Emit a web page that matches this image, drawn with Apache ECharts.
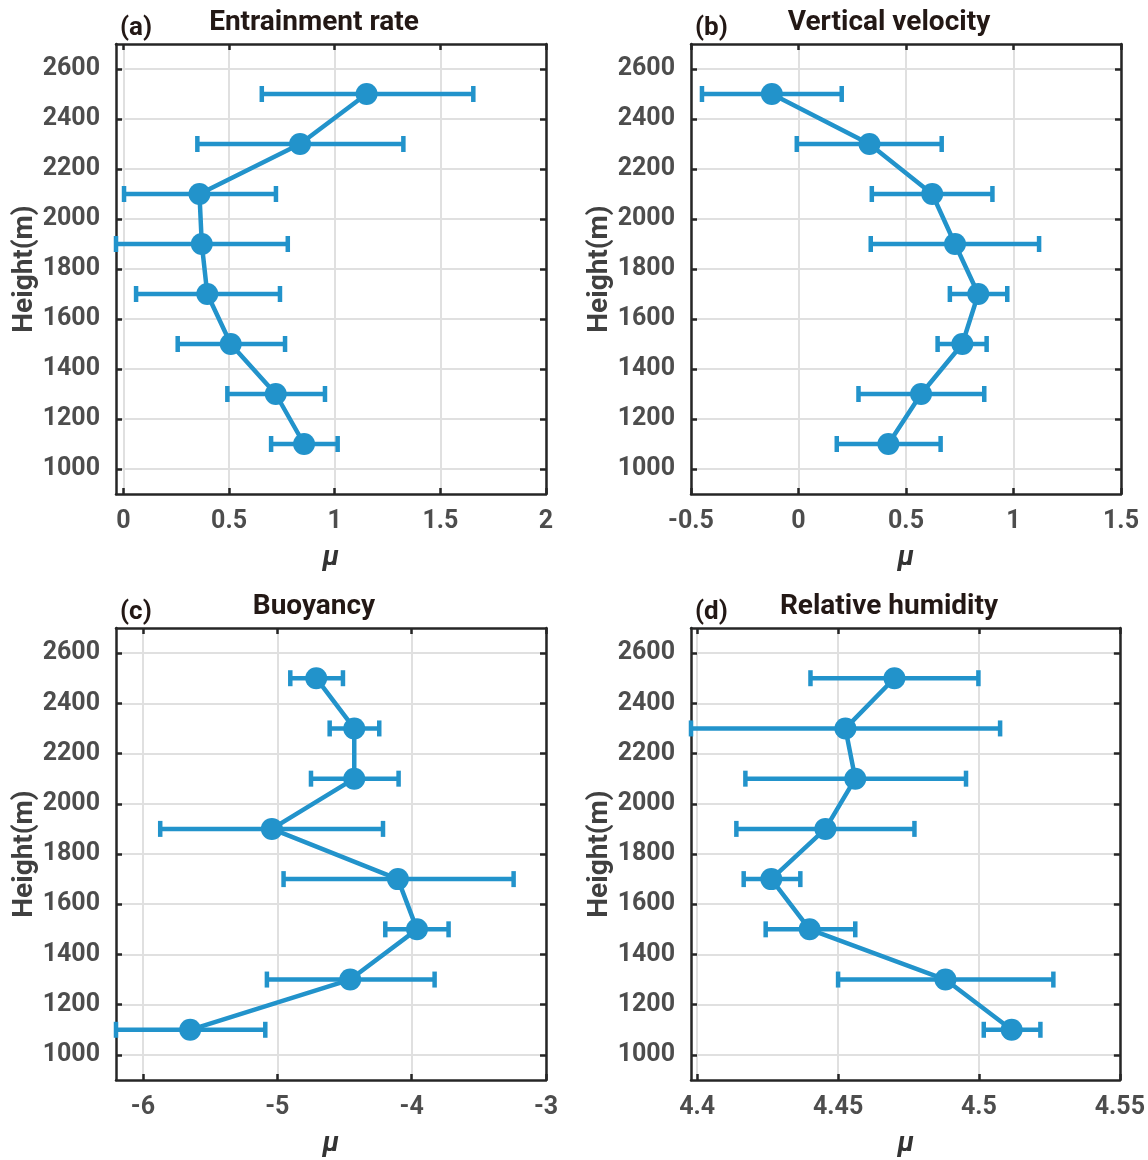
<!DOCTYPE html>
<html>
<head>
<meta charset="utf-8">
<script src="https://cdn.jsdelivr.net/npm/echarts@6/dist/echarts.min.js"></script>
<style>
html,body{margin:0;padding:0;background:#fff;}
#chart{width:1148px;height:1160px;}
</style>
</head>
<body>
<div id="chart"></div>
<script>
// ---------- data ----------
const heights = [1100, 1300, 1500, 1700, 1900, 2100, 2300, 2500];
const yTicks = [1000, 1200, 1400, 1600, 1800, 2000, 2200, 2400, 2600];

const entrainMean = [0.855, 0.721, 0.508, 0.397, 0.371, 0.360, 0.836, 1.151];
const entrainLow  = [0.699, 0.492, 0.257, 0.060, -0.035, 0.003, 0.350, 0.655];
const entrainHigh = [1.014, 0.954, 0.765, 0.741, 0.778, 0.722, 1.325, 1.656];

const velMean = [0.418, 0.570, 0.762, 0.836, 0.728, 0.622, 0.330, -0.124];
const velLow  = [0.178, 0.279, 0.647, 0.704, 0.336, 0.341, -0.008, -0.449];
const velHigh = [0.661, 0.864, 0.875, 0.971, 1.119, 0.902, 0.666, 0.201];

const buoyMean = [-5.648, -4.457, -3.960, -4.102, -5.040, -4.427, -4.427, -4.710];
const buoyLow  = [-6.200, -5.077, -4.196, -4.953, -5.871, -4.749, -4.610, -4.903];
const buoyHigh = [-5.089, -3.829, -3.725, -3.241, -4.213, -4.097, -4.241, -4.511];

const rhMean = [4.5116, 4.4881, 4.4399, 4.4263, 4.4455, 4.4561, 4.4526, 4.4700];
const rhLow  = [4.5017, 4.4500, 4.4243, 4.4165, 4.4139, 4.4171, 4.3978, 4.4402];
const rhHigh = [4.5218, 4.5264, 4.4561, 4.4366, 4.4771, 4.4954, 4.5075, 4.4998];

const xTicksA = [0, 0.5, 1, 1.5, 2];
const xTicksB = [-0.5, 0, 0.5, 1, 1.5];
const xTicksC = [-6, -5, -4, -3];
const xTicksD = [4.4, 4.45, 4.5, 4.55];

const titles = ['Entrainment rate', 'Vertical velocity', 'Buoyancy', 'Relative humidity'];
const letters = ['(a)', '(b)', '(c)', '(d)'];
const xName = 'μ';
const yName = 'Height(m)';

// ---------- layout / style ----------
const FONT = "Roboto, 'DejaVu Sans Condensed', sans-serif";
const BLUE = '#2293cb';
const AXIS = '#262626';
const LABEL = '#4d4d4d';
const GRIDC = '#e0e0e0';
const panels = [
  {left: 116, top: 44,  w: 430, h: 450, xmin: -0.035, xmax: 2,    xt: xTicksA, mean: entrainMean, lo: entrainLow, hi: entrainHigh},
  {left: 691, top: 44,  w: 430, h: 450, xmin: -0.5,   xmax: 1.5,  xt: xTicksB, mean: velMean, lo: velLow, hi: velHigh},
  {left: 116, top: 628, w: 430, h: 452, xmin: -6.2,   xmax: -3,   xt: xTicksC, mean: buoyMean, lo: buoyLow, hi: buoyHigh},
  {left: 691, top: 628, w: 430, h: 452, xmin: 4.3978, xmax: 4.55, xt: xTicksD, mean: rhMean, lo: rhLow, hi: rhHigh}
];

const grid = [], xAxis = [], yAxis = [], series = [], graphic = [];
const lineStyleAxis = {color: AXIS, width: 2.5};
const tickStyle = {inside: true, length: 6, lineStyle: {color: AXIS, width: 2.5}};
const fmt = v => String(+(+v).toFixed(3));

panels.forEach((p, i) => {
  grid.push({left: p.left, top: p.top, width: p.w, height: p.h, containLabel: false});
  xAxis.push({
    type: 'value', gridIndex: i, position: 'bottom', min: p.xmin, max: p.xmax,
    axisLine: {show: true, onZero: false, lineStyle: lineStyleAxis},
    axisTick: Object.assign({customValues: p.xt}, tickStyle),
    axisLabel: {customValues: p.xt, formatter: fmt, color: LABEL, fontFamily: FONT, fontWeight: 'bold', fontSize: 25, margin: 15, showMinLabel: true, showMaxLabel: true, hideOverlap: false},
    splitLine: {show: true, lineStyle: {color: GRIDC, width: 2}}
  });
  xAxis.push({
    type: 'value', gridIndex: i, position: 'top', min: p.xmin, max: p.xmax,
    axisLine: {show: true, onZero: false, lineStyle: lineStyleAxis},
    axisTick: Object.assign({customValues: p.xt}, tickStyle),
    axisLabel: {show: false}, splitLine: {show: false}
  });
  yAxis.push({
    type: 'value', gridIndex: i, position: 'left', min: 900, max: 2700,
    axisLine: {show: true, onZero: false, lineStyle: lineStyleAxis},
    axisTick: Object.assign({customValues: yTicks}, tickStyle),
    axisLabel: {customValues: yTicks, formatter: fmt, color: LABEL, fontFamily: FONT, fontWeight: 'bold', fontSize: 25, margin: 16},
    splitLine: {show: true, lineStyle: {color: GRIDC, width: 2}}
  });
  yAxis.push({
    type: 'value', gridIndex: i, position: 'right', min: 900, max: 2700,
    axisLine: {show: true, onZero: false, lineStyle: lineStyleAxis},
    axisTick: Object.assign({customValues: yTicks}, tickStyle),
    axisLabel: {show: false}, splitLine: {show: false}
  });

  const errData = heights.map((h, k) => [p.lo[k], p.hi[k], h]);
  series.push({
    type: 'custom', xAxisIndex: 2 * i, yAxisIndex: 2 * i, clip: false, z: 3,
    encode: {x: [0, 1], y: 2},
    data: errData,
    renderItem: function (params, api) {
      const a = api.coord([api.value(0), api.value(2)]);
      const b = api.coord([api.value(1), api.value(2)]);
      const c = 8;
      const st = {stroke: BLUE, lineWidth: 4.5, lineCap: 'butt'};
      return {type: 'group', children: [
        {type: 'line', shape: {x1: a[0], y1: a[1], x2: b[0], y2: b[1]}, style: st},
        {type: 'line', shape: {x1: a[0], y1: a[1] - c, x2: a[0], y2: a[1] + c}, style: st},
        {type: 'line', shape: {x1: b[0], y1: b[1] - c, x2: b[0], y2: b[1] + c}, style: st}
      ]};
    }
  });
  series.push({
    type: 'line', xAxisIndex: 2 * i, yAxisIndex: 2 * i, z: 4,
    data: heights.map((h, k) => [p.mean[k], h]),
    symbol: 'circle', symbolSize: 22, showSymbol: true,
    lineStyle: {color: BLUE, width: 4.5},
    itemStyle: {color: BLUE},
    emphasis: {disabled: true}
  });

  const cx = p.left + p.w / 2;
  const cy = p.top + p.h / 2;
  graphic.push({type: 'text', x: cx - 17, y: p.top - 21,
    style: {text: titles[i], font: "bold 28px " + FONT, fill: '#231815', align: 'center', verticalAlign: 'middle'}});
  graphic.push({type: 'text', x: p.left + 4, y: p.top - 16,
    style: {text: letters[i], font: "bold 26px " + FONT, fill: '#231815', align: 'left', verticalAlign: 'middle'}});
  graphic.push({type: 'text', x: cx, y: p.top + p.h + 64,
    style: {text: xName, font: "italic bold 28px " + FONT, fill: '#333333', align: 'center', verticalAlign: 'middle'}});
  graphic.push({type: 'text', x: p.left - 91, y: cy, rotation: Math.PI / 2,
    style: {text: yName, font: "bold 28px " + FONT, fill: '#404040', align: 'center', verticalAlign: 'middle'}});
});

const chart = echarts.init(document.getElementById('chart'), null, {renderer: 'canvas'});
chart.setOption({
  animation: false,
  backgroundColor: '#ffffff',
  grid, xAxis, yAxis, series, graphic
});
</script>
</body>
</html>
